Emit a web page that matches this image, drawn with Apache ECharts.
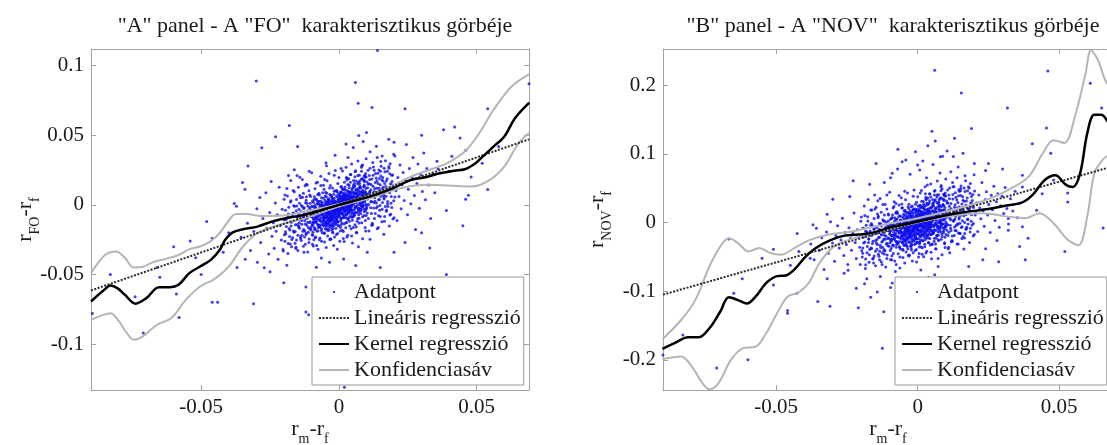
<!DOCTYPE html>
<html>
<head>
<meta charset="utf-8">
<script src="https://cdn.jsdelivr.net/npm/echarts@6/dist/echarts.min.js"></script>
<style>
html, body { margin: 0; padding: 0; background: #fff; }
#chart { width: 1107px; height: 445px; }
</style>
</head>
<body>
<div id="chart"></div>
<script>
// tick positions
const xTicks = [-0.05, 0, 0.05];
const yTicksA = [-0.1, -0.05, 0, 0.05, 0.1];
const yTicksB = [-0.2, -0.1, 0, 0.1, 0.2];

// scatter points, in units of 0.0001
const pointsA = [
  [-148,-62],[-146,-158],[-143,12],[-141,-104],[-139,-231],[-137,-47],[-135,-139],[-132,54],[-131,-88],[-128,-176],[-126,-21],[-124,-112],[-122,-283],[-121,-66],[-119,33],[-117,-147],[-115,-94],[-113,-8],[-111,-197],[-109,-58],[-107,-126],[-106,71],[-104,-31],[-102,-164],[-101,-83],
  [-99,-12],[-98,-136],[-96,-71],[-95,-218],[-93,-42],[-92,18],[-91,-104],[-89,-163],[-88,-57],[-87,-5],[-85,-121],[-84,-84],[-83,42],[-81,-29],[-80,-187],[-79,-98],[-77,-63],[-76,9],[-75,-142],[-73,-36],[-72,-81],[-71,-251],[-70,-14],[-68,-116],[-67,-52],[-66,27],[-64,-92],[-63,-171],[-62,-24],[-61,-67],[-59,88],[-58,-133],[-57,-43],[-56,-3],[-55,-109],[-54,-76],[-53,-206],[-52,-18],[-51,-58],[-50,34],
  [-49,-89],[-49,-31],[-48,-148],[-48,6],[-47,-62],[-47,-117],[-46,-22],[-46,58],[-45,-79],[-45,-4],[-44,-131],[-44,-46],[-43,-96],[-43,21],[-42,-13],[-42,-182],[-41,-68],[-41,-37],[-40,-109],[-40,3],[-39,-54],[-39,44],[-38,-83],[-38,-24],[-37,-141],[-37,-9],[-36,-61],[-36,17],[-35,-101],[-35,-39],[-34,-2],[-34,-124],[-33,-73],[-33,31],[-32,-47],[-32,-17],[-31,-92],[-31,-163],[-30,-28],[-30,9],[-29,-64],[-29,-114],[-28,-6],[-28,62],[-27,-51],[-27,-86],[-26,-21],[-26,24],[-25,-133],[-25,-41],[-24,-71],[-24,-1],[-23,-102],[-23,39],[-22,-33],[-22,-58],[-21,-11],[-21,-154],[-20,-79],[-20,14],[-19,-44],[-19,-24],[-18,-96],[-18,4],[-17,-62],[-17,48],[-16,-31],[-16,-118],[-15,-8],[-15,-53],[-14,-84],[-14,27],[-13,-19],[-13,-39],[-12,-141],[-12,9],[-11,-67],[-11,-28],[-10,-3],[-10,-107],[-9,-48],[-9,64],[-8,-14],[-8,-78],[-7,-34],[-7,19],[-6,-58],[-6,-2],[-5,-124],[-5,-22],[-4,-44],[-4,36],[-3,-9],[-3,-87],[-2,-29],[-2,7],[-1,-63],[-1,-17],
  [0,-21],[0,32],[1,16],[1,-76],[2,44],[2,-7],[3,-38],[3,23],[4,67],[4,7],[5,-51],[5,-16],[6,29],[6,-114],[7,-1],[7,51],[8,-29],[8,19],[9,91],[9,-64],[10,12],[10,38],[11,-13],[11,-92],[12,62],[12,17],[13,-41],[13,34],[14,1],[14,108],[15,-23],[15,47],[16,21],[16,-57],[17,73],[17,6],[18,-11],[18,31],[19,-73],[19,56],[20,14],[20,-32],[21,41],[21,87],[22,-4],[22,24],[23,-48],[23,61],[24,9],[24,36],[25,-128],[25,-18],[26,49],[26,27],[27,-37],[27,78],[28,16],[28,-1],[29,54],[29,-69],[30,32],[30,-16],[31,101],[31,12],[32,-27],[32,42],[33,23],[33,-98],[34,67],[34,1],[35,-43],[35,34],[36,18],[36,58],[37,-11],[37,124],[38,26],[38,-56],[39,47],[39,7],[40,74],[40,-24],[41,19],[41,39],[42,-78],[42,53],[43,-3],[43,93],[44,29],[44,-37],[45,61],[45,9],[46,-14],[46,44],[47,82],[47,-51],[48,21],[48,2],[49,56],[49,-111],
  [51,39],[52,93],[53,6],[54,61],[55,-37],[56,74],[57,26],[58,136],[59,49],[60,-9],[61,82],[62,18],[63,57],[64,111],[65,-56],[66,36],[67,88],[68,1],[69,66],[70,163],[71,31],[72,101],[73,-22],[74,48],[75,79],[76,16],[77,126],[78,42],[79,-43],[80,92],[81,59],[82,-6],[83,72],[84,188],[85,27],[86,107],[87,9],[88,53],[89,84],[90,-29],[91,64],[92,142],[93,34],[94,96],[95,-2],[96,69],[97,43],[98,118],[99,-77],[100,78],
  [102,44],[104,123],[106,77],[108,2],[110,152],[112,91],[114,56],[116,109],[118,24],[120,186],[122,68],[124,134],[126,-23],[128,96],[130,51],[132,161],[134,83],[136,13],[138,119],[140,72],[142,227],[144,37],[146,102],[148,-39],[150,144],[152,62],[154,89],[156,178],[158,18],[160,126],[162,76],[164,42],[166,153],[168,-11],[170,107],
  [-198,-214],[-194,-38],[-191,-156],[-187,64],[-184,-277],[-181,-92],[-178,-181],[-176,21],[-173,-124],[-171,-248],[-168,-61],[-166,103],[-163,-197],[-161,-9],[-158,-142],[-156,-304],[-154,38],[-151,-88],[-149,-218],[-147,126],[-145,-31],[-143,-167],[-141,-74],[-139,52],[-137,-256],[-135,-113],[-133,-12],[-131,-189],[-129,84],[-127,-58],[-125,-231],[-123,-137],[-121,16],[-119,-204],[-117,-96],[-115,143],[-113,-43],[-111,-162],[-109,-271],[-107,-19],[-105,-121],[-103,61],[-101,-181],
  [-99,-67],[-97,-214],[-96,28],[-94,-142],[-92,-36],[-91,-251],[-89,-98],[-87,116],[-86,-173],[-84,-21],[-82,-129],[-81,-292],[-79,-57],[-77,74],[-76,-188],[-74,-109],[-72,6],[-71,-156],[-69,-238],[-67,-41],[-66,139],[-64,-118],[-62,-64],[-61,-201],[-59,-14],[-57,-146],[-56,48],[-54,-97],[-52,-266],[-51,-33],[-49,-171],[-48,91],[-46,-76],[-45,-133],[-43,-7],[-41,-224],[-40,-52],[-38,34],[-37,-184],[-35,-114],[-34,122],[-32,-27],[-31,-148],[-29,-247],[-28,-66],[-26,56],[-25,-103],[-23,-194],[-22,-16],[-20,-138],[-19,77],[-17,-57],[-16,-231],[-14,-91],[-13,18],[-11,-168],[-10,-36],[-8,104],[-7,-121],[-5,-206],[-4,-48],[-2,43],[-1,-152],
  [1,-84],[2,68],[4,-23],[5,-187],[7,131],[8,-58],[10,14],[11,-131],[13,86],[14,-6],[16,-241],[17,52],[19,-92],[20,162],[22,-31],[23,108],[25,-164],[26,27],[28,-62],[29,194],[31,-12],[32,-218],[34,73],[35,-47],[37,141],[38,-118],[40,36],[41,-9],[43,218],[44,-171],[46,61],[47,-38],[49,119],[50,-87],[52,14],[53,176],[55,-58],[56,88],[58,-142],[59,32],[61,246],[62,-11],[64,103],[65,-201],[67,47],[68,152],[70,-34],[71,71],[73,-96],[74,213],[76,6],[77,124],[79,-61],[80,39],[82,271],[83,-128],[85,94],[86,-13],[88,183],[89,58],[91,-76],[92,131],[94,22],[95,-162],[97,226],[98,79],[100,-27],
  [102,164],[105,43],[107,-98],[110,211],[112,97],[115,-21],[117,146],[120,62],[122,-143],[125,273],[127,18],[130,118],[132,-61],[135,194],[137,82],[140,-12],[142,154],[145,251],[147,38],[150,-84],[152,207],[155,103],[157,-31],[160,171],[162,68],[165,-117],[167,238],[170,132],[172,-46],[175,187],[177,24],[180,98],[182,264],[185,-73],[187,152],[190,61],[192,-18],[195,214],[197,116],[200,-92],
  [-203,-320],[-199,41],[-196,-262],[-192,-105],[-189,118],[-185,-349],[-182,-17],[-179,-228],[-175,176],[-172,-301],[-169,-73],[-165,-188],[-162,94],[-159,-276],[-155,-43],[-152,211],[-149,-327],[-146,-152],[-142,67],[-139,-241],[-136,-5],[-133,183],[-129,-298],[-126,-89],[-123,137],[-119,-212],[-116,11],[-113,-339],[-109,102],[-106,-174],[-103,-58],[-99,231],[-96,-283],[-93,-121],[-89,59],[-86,-236],[-83,158],[-79,-31],[-76,-318],[-73,83],[-69,-161],[-66,206],[-63,-262],[-59,-71],[-56,141],[-53,-201],[-49,18],[-46,-306],[-43,173],[-39,-128],[-36,226],[-33,-248],[-29,69],[-26,-178],[-23,121],[-19,-292],[-16,-52],[-13,247],[-9,-213],[-6,92],[-3,-147],[0,196],
  [3,-261],[6,58],[9,-98],[13,244],[16,-192],[19,112],[23,-44],[26,271],[29,-231],[33,16],[36,187],[39,-152],[43,-3],[46,293],[49,-274],[53,128],[56,-76],[59,238],[63,-198],[66,47],[69,316],[73,-131],[76,173],[79,-27],[83,282],[86,-243],[89,91],[93,211],[96,-112],[99,331],[103,-58],[106,148],[109,-187],[113,263],[116,22],[119,-146],[123,304],[126,71],[129,-98],[133,226],[136,-23],[139,341],[143,-162],[146,119],[149,-4],[153,278],[156,-121],[159,197],[163,52],[166,-83],[169,318],[173,-36],[176,241],[179,108],[183,-151],[186,296],[189,11],[193,168],[196,-102],[199,363],[203,57],
  [-88,-14],[-84,-96],[-81,37],[-77,-142],[-74,-58],[-71,71],[-67,-3],[-64,-184],[-61,19],[-57,-86],[-54,112],[-51,-127],[-47,-26],[-44,83],[-41,-152],[-37,2],[-34,-67],[-31,139],[-27,-104],[-24,-8],[-21,-171],[-17,98],[-14,-44],[-11,17],[-7,-119],[-4,154],[-1,-71],[2,-3],[6,-163],[9,131],[12,-26],[16,68],[19,-138],[22,16],[26,-71],[29,178],[32,-104],[36,92],[39,-41],[42,218],[46,-88],[49,31],[52,-162],[56,153],[59,-17],[62,84],[66,-118],[69,211],[72,-51],[76,136],[79,-3],[82,241],[86,-86],[89,24],[92,168],[96,-42],[99,201],[102,-11],[106,248],[109,67],
  [-128,-26],[-124,-188],[-118,58],[-114,-127],[-108,-246],[-104,12],[-98,-86],[-94,-197],[-134,-218],[-144,-129],[-154,-253],[-164,-7],[-174,-151],[-184,-66],[-194,-193],[112,182],[118,-61],[124,213],[131,26],[138,173],[144,-78],[151,242],[158,114],[164,263],[171,62],[178,-11],[185,223],[192,144],
  [-98,-151],[-95,-12],[-93,-97],[-90,38],[-88,-176],[-85,-52],[-83,-118],[-80,6],[-78,-81],[-75,-163],[-73,27],[-70,-104],[-68,-37],[-65,-142],[-63,51],[-60,-68],[-58,-121],[-55,-9],[-53,-94],[-50,63],[-48,-136],[-45,-41],[-43,-88],[-40,19],[-38,-113],[-35,-57],[-33,74],[-30,-146],[-28,-23],[-25,-79],[-23,48],[-20,-118],[-18,-3],[-15,-64],[-13,102],[-10,-97],[-8,-31],[-5,57],[-3,-121],[0,12],[2,-56],[5,88],[7,-98],[10,-17],[12,117],[15,-73],[17,36],[20,-34],[22,128],[25,-91],[27,71],[30,-2],[32,146],[35,-58],[37,92],[40,-14],[42,163],[45,-31],[47,108],[50,4],[52,-84],[55,131],[57,22],[60,-53],[62,171],[65,58],[67,-18],[70,118],[72,-71],[75,154],[77,38],[80,-34],[82,186],[85,76],[87,-12],[90,132],[92,-48],[95,201],[97,91],[100,4],
  [-97,-64],[-92,-128],[-87,-29],[-82,-88],[-77,24],[-72,-146],[-67,-71],[-62,9],[-57,-106],[-52,-23],[-47,-171],[-42,-61],[-37,43],[-32,-92],[-27,-8],[-22,-154],[-17,29],[-12,-46],[-7,-107],[-2,78],[3,-29],[8,-142],[13,47],[18,-88],[23,11],[28,-126],[33,96],[38,-32],[43,54],[48,-63],[53,142],[58,-24],[63,81],[68,-97],[73,46],[78,123],[83,-8],[88,61],[93,173],[98,-26],
  [-64,-7],[-59,-43],[-54,-151],[-49,-92],[-44,-14],[-39,-171],[-34,-36],[-29,-88],[-24,21],[-19,-67],[-14,-132],[-9,-1],[-4,-83],[1,-41],[6,93],[11,-61],[16,8],[21,69],[26,-27],[31,38],[36,-91],[41,87],[46,-6],[51,56],[56,-71],[61,108],[66,26],[71,-39],[76,92],[81,12],
  [-372,-9],[-355,-233],[-341,112],[-332,-132],[-321,-328],[-309,-191],[-298,-28],[-296,-412],[-287,53],[-284,-271],[-276,-98],[-271,-452],[-265,88],[-262,-167],[-255,-353],[-251,-54],[-246,168],[-243,-226],[-238,-129],[-235,-312],[-231,13],[-228,-189],[-224,-71],[-221,-391],[-217,127],[-213,-148],[-209,-253],[-206,-32],[-202,-331],[-199,-107],[-196,71],[-193,-208],[-189,-434],[-186,-76],[-183,212],[-181,-169],[-177,-281],[-174,29],[-171,-122],[-168,-236],[-165,-59],[-162,253],[-159,-192],[-156,-313],[-153,-8],[-151,-141],
  [172,171],[176,7],[181,276],[184,88],[188,-68],[192,213],[196,134],[199,29],[203,352],[207,102],[211,-112],[214,197],[218,61],[222,286],[226,-28],[229,144],[233,233],[237,31],[241,181],[245,434],[249,-71],[252,112],[256,262],[261,8],[265,198],[269,341],[274,68],[278,-177],[283,154],[287,293],[292,-24],[297,219],[303,96],[308,372],[314,37],[319,261],[326,142],[333,-98],[341,224],[348,87],[356,313],
  [-142,198],[-127,-341],[-108,241],[-93,-296],[-78,162],[-64,-382],[-45,281],[-31,-244],[-17,213],[-6,-318],[8,262],[19,-263],[33,341],[46,-224],[58,203],[71,-301],[86,287],[97,-188],[113,-247],[128,248],[139,-171],[152,311],[163,-211],[-118,148],[-84,-231],[-52,182],[-22,-201],[12,-182],[27,196],[63,-158],[92,206],[121,-132],[147,189],
  [52,412],[88,455],[113,381],[-14,356],[72,498],[26,437],[136,422],[157,352],[181,471],[-47,302],[-34,-412],[17,-389],[61,-436],[-82,-448],[103,-341],
  [-300,890],[60,880],[70,730],[120,700],[240,690],[540,690],[690,870],[-180,570],[-230,490],[380,540],[440,480],[460,390],[410,350],[460,40],[470,70],[540,110],[390,-40],[-350,160],[-380,10],[-540,-260],[-460,-240],[-500,-500],[-650,-520],[-830,-500],[-740,-660],[-590,-640],[-460,-700],[-440,-700],[-310,-710],[-580,-810],[-710,-920],[-895,-780],[-120,-770],[-110,-790],[390,-500],[240,-270],[200,-340],[150,-450],[20,-1310],[140,1110],[-120,-590],[-340,-390],[-370,-450],[-420,-340],[-400,-200],[360,260],[400,240],[480,200],[520,300],[580,420],[-600,-300],[-660,-450],[-250,-480],[-200,-560],[300,-200],[330,-310],[-280,410],[-150,420],[100,520],[200,450],[300,500],[-330,280],[450,-150],[-480,-120],[-520,-380],[420,560]
];

const pointsB = [
  [-149,-262],[-147,-61],[-144,-388],[-142,-153],[-140,72],[-138,-214],[-136,-97],[-133,-331],[-131,-18],[-129,-176],[-127,-283],[-125,-124],[-123,41],[-120,-239],[-118,-146],[-116,-412],[-114,-71],[-112,-198],[-110,-3],[-108,-301],[-106,-112],[-104,126],[-103,-226],[-101,-48],
  [-99,-168],[-97,-32],[-96,-251],[-94,-109],[-93,58],[-91,-192],[-90,-77],[-88,-328],[-87,-14],[-85,-141],[-84,-233],[-82,19],[-81,-96],[-79,-187],[-78,-43],[-76,152],[-75,-274],[-73,-122],[-72,-8],[-70,-211],[-69,-68],[-67,88],[-66,-157],[-64,-362],[-63,-39],[-61,-118],[-60,31],[-58,-204],[-57,-87],[-56,214],[-54,-146],[-53,-23],[-52,-297],[-51,-62],[-50,63],
  [-49,-141],[-49,12],[-48,-222],[-48,-66],[-47,97],[-47,-183],[-46,-28],[-46,-109],[-45,178],[-45,-8],[-44,-264],[-44,-81],[-43,46],[-43,-152],[-42,-37],[-42,-318],[-41,118],[-41,-92],[-40,-12],[-40,-201],[-39,71],[-39,-58],[-38,-136],[-38,22],[-37,-244],[-37,-3],[-36,149],[-36,-117],[-35,-46],[-35,-386],[-34,88],[-34,-163],[-33,-24],[-33,-74],[-32,207],[-32,-211],[-31,36],[-31,-104],[-30,-9],[-30,-281],[-29,124],[-29,-52],[-28,-147],[-28,61],[-27,-31],[-27,-228],[-26,173],[-26,-88],[-25,4],[-25,-168],[-24,94],[-24,-42],[-23,-334],[-23,27],[-22,-121],[-22,142],[-21,-17],[-21,-197],[-20,66],[-20,-71],[-19,238],[-19,-139],[-18,-6],[-18,-254],[-17,109],[-17,-48],[-16,-112],[-16,34],[-15,-186],[-15,187],[-14,-26],[-14,-92],[-13,81],[-13,-271],[-12,-1],[-12,-154],[-11,142],[-11,-63],[-10,-219],[-10,47],[-9,-37],[-9,-126],[-8,266],[-8,12],[-7,-83],[-7,-308],[-6,98],[-6,-22],[-5,-167],[-5,158],[-4,-54],[-4,29],[-3,-241],[-3,74],[-2,-11],[-2,-103],[-1,196],[-1,-46],
  [0,-92],[0,58],[1,-19],[1,243],[2,-164],[2,102],[3,14],[3,-58],[4,176],[4,-233],[5,39],[5,-7],[6,-118],[6,127],[7,72],[7,-286],[8,-31],[8,214],[9,9],[9,-151],[10,93],[10,-54],[11,163],[11,27],[12,-201],[12,-3],[13,137],[13,66],[14,-88],[14,312],[15,-24],[15,104],[16,-176],[16,47],[17,223],[17,-41],[18,-112],[18,81],[19,3],[19,-262],[20,154],[20,-66],[21,34],[21,268],[22,-139],[22,96],[23,-12],[23,-214],[24,187],[24,61],[25,-78],[25,-351],[26,121],[26,18],[27,-47],[27,241],[28,-159],[28,73],[29,-2],[29,147],[30,-103],[30,337],[31,42],[31,-221],[32,92],[32,-34],[33,182],[33,-126],[34,11],[34,261],[35,-71],[35,129],[36,-184],[36,52],[37,201],[37,-19],[38,-294],[38,88],[39,-57],[39,163],[40,24],[40,-143],[41,286],[41,67],[42,-96],[42,134],[43,-8],[43,-231],[44,212],[44,41],[45,-61],[45,107],[46,-172],[46,373],[47,16],[47,-114],[48,158],[48,-27],[49,79],[49,-318],
  [51,-42],[52,171],[53,36],[54,-154],[55,244],[56,91],[57,-61],[58,137],[59,-227],[60,62],[61,318],[62,-8],[63,113],[64,-117],[65,206],[66,24],[67,-188],[68,152],[69,71],[70,-46],[71,283],[72,-3],[73,126],[74,-261],[75,94],[76,197],[77,-84],[78,42],[79,352],[80,-139],[81,166],[82,11],[83,-22],[84,231],[85,77],[86,-204],[87,143],[88,-71],[89,264],[90,38],[91,-128],[92,188],[93,-16],[94,107],[95,-294],[96,219],[97,59],[98,-57],[99,142],[100,-174],
  [102,96],[104,287],[106,-31],[108,174],[110,-142],[112,238],[114,61],[116,-82],[118,203],[120,121],[122,-196],[124,342],[126,18],[128,157],[130,-64],[132,261],[134,89],[136,-118],[138,214],[140,146],[142,-21],[144,392],[146,54],[148,-157],[150,183],[152,107],[154,-71],[156,271],[158,28],[160,-203],[162,168],[164,312],[166,3],[168,126],[170,-98],
  [-198,-412],[-194,-83],[-191,-298],[-187,104],[-184,-531],[-181,-186],[-178,-347],[-176,23],[-173,-241],[-171,-468],[-168,-122],[-166,183],[-163,-376],[-161,-36],[-158,-271],[-156,-588],[-154,61],[-151,-164],[-149,-417],[-147,224],[-145,-72],[-143,-318],[-141,-148],[-139,91],[-137,-491],[-135,-219],[-133,-27],[-131,-362],[-129,152],[-127,-113],[-125,-442],[-123,-263],[-121,24],[-119,-391],[-117,-186],[-115,263],[-113,-84],[-111,-311],[-109,-522],[-107,-41],[-105,-231],[-103,112],[-101,-346],
  [-99,-129],[-97,-408],[-96,49],[-94,-271],[-92,-71],[-91,-482],[-89,-188],[-87,214],[-86,-331],[-84,-43],[-82,-246],[-81,-561],[-79,-109],[-77,137],[-76,-361],[-74,-207],[-72,8],[-71,-298],[-69,-456],[-67,-79],[-66,258],[-64,-226],[-62,-124],[-61,-384],[-59,-28],[-57,-279],[-56,86],[-54,-186],[-52,-508],[-51,-63],[-49,-327],[-48,171],[-46,-146],[-45,-254],[-43,-14],[-41,-428],[-40,-101],[-38,62],[-37,-352],[-35,-218],[-34,231],[-32,-52],[-31,-283],[-29,-472],[-28,-127],[-26,104],[-25,-197],[-23,-371],[-22,-31],[-20,-264],[-19,146],[-17,-109],[-16,-441],[-14,-174],[-13,33],[-11,-321],[-10,-69],[-8,198],[-7,-231],[-5,-394],[-4,-92],[-2,81],[-1,-291],
  [1,-161],[2,129],[4,-44],[5,-357],[7,249],[8,-111],[10,27],[11,-251],[13,163],[14,-12],[16,-461],[17,98],[19,-176],[20,309],[22,-59],[23,206],[25,-314],[26,51],[28,-119],[29,371],[31,-23],[32,-417],[34,139],[35,-89],[37,269],[38,-226],[40,68],[41,-17],[43,416],[44,-327],[46,116],[47,-73],[49,227],[50,-166],[52,27],[53,336],[55,-111],[56,168],[58,-271],[59,61],[61,469],[62,-21],[64,197],[65,-384],[67,89],[68,291],[70,-65],[71,136],[73,-183],[74,407],[76,11],[77,237],[79,-116],[80,74],[82,517],[83,-244],[85,179],[86,-25],[88,349],[89,111],[91,-145],[92,250],[94,42],[95,-309],[97,431],[98,151],[100,-52],
  [102,313],[105,82],[107,-187],[110,403],[112,185],[115,-40],[117,279],[120,118],[122,-273],[125,521],[127,34],[130,225],[132,-116],[135,370],[137,156],[140,-23],[142,294],[145,479],[147,73],[150,-160],[152,395],[155,196],[157,-59],[160,326],[162,130],[165,-223],[167,454],[170,252],[172,-88],[175,357],[177,46],[180,187],[182,504],[185,-139],[187,290],[190,116],[192,-34],[195,408],[197,221],[200,-175],
  [-203,-612],[-199,81],[-196,-503],[-192,-212],[-189,241],[-185,-668],[-182,-38],[-179,-441],[-175,337],[-172,-579],[-169,-148],[-165,-372],[-162,183],[-159,-531],[-155,-93],[-152,402],[-149,-628],[-146,-297],[-142,124],[-139,-462],[-136,-14],[-133,352],[-129,-571],[-126,-178],[-123,262],[-119,-409],[-116,19],[-113,-648],[-109,198],[-106,-339],[-103,-117],[-99,443],[-96,-542],[-93,-236],[-89,113],[-86,-452],[-83,304],[-79,-63],[-76,-611],[-73,159],[-69,-312],[-66,394],[-63,-503],[-59,-139],[-56,271],[-53,-387],[-49,33],[-46,-588],[-43,332],[-39,-246],[-36,433],[-33,-477],[-29,131],[-26,-342],[-23,232],[-19,-561],[-16,-101],[-13,474],[-9,-408],[-6,177],[-3,-283],[0,376],
  [3,-501],[6,112],[9,-188],[13,468],[16,-368],[19,214],[23,-84],[26,521],[29,-443],[33,31],[36,359],[39,-291],[43,-6],[46,563],[49,-526],[53,246],[56,-146],[59,457],[63,-381],[66,91],[69,607],[73,-252],[76,332],[79,-52],[83,541],[86,-467],[89,174],[93,405],[96,-215],[99,636],[103,-111],[106,284],[109,-359],[113,505],[116,42],[119,-281],[123,584],[126,136],[129,-188],[133,434],[136,-44],[139,655],[143,-311],[146,228],[149,-8],[153,534],[156,-232],[159,378],[163,99],[166,-159],[169,611],[173,-69],[176,463],[179,207],[183,-290],[186,568],[189,21],[193,323],[196,-196],[199,697],[203,109],
  [-88,-27],[-84,-184],[-81,71],[-77,-273],[-74,-111],[-71,136],[-67,-6],[-64,-353],[-61,36],[-57,-165],[-54,215],[-51,-244],[-47,-50],[-44,159],[-41,-292],[-37,4],[-34,-129],[-31,267],[-27,-200],[-24,-15],[-21,-328],[-17,188],[-14,-84],[-11,33],[-7,-228],[-4,296],[-1,-136],[2,-6],[6,-313],[9,252],[12,-50],[16,131],[19,-265],[22,31],[26,-136],[29,342],[32,-200],[36,177],[39,-79],[42,419],[46,-169],[49,60],[52,-311],[56,294],[59,-33],[62,161],[66,-227],[69,405],[72,-98],[76,261],[79,-6],[82,463],[86,-165],[89,46],[92,323],[96,-81],[99,386],[102,-21],[106,476],[109,129],
  [-128,-50],[-124,-361],[-118,111],[-114,-244],[-108,-472],[-104,23],[-98,-165],[-94,-378],[-134,-419],[-144,-248],[-154,-486],[-164,-13],[-174,-290],[-184,-127],[-194,-371],[112,349],[118,-117],[124,409],[131,50],[138,332],[144,-150],[151,465],[158,219],[164,505],[171,119],[178,-21],[185,428],[192,276],
  [-98,-294],[-95,-24],[-93,-188],[-90,74],[-88,-343],[-85,-102],[-83,-230],[-80,12],[-78,-158],[-75,-318],[-73,53],[-70,-203],[-68,-72],[-65,-277],[-63,99],[-60,-133],[-58,-236],[-55,-18],[-53,-183],[-50,123],[-48,-265],[-45,-80],[-43,-172],[-40,37],[-38,-220],[-35,-111],[-33,144],[-30,-285],[-28,-45],[-25,-154],[-23,94],[-20,-230],[-18,-6],[-15,-125],[-13,199],[-10,-189],[-8,-60],[-5,111],[-3,-236],[0,23],[2,-109],[5,172],[7,-191],[10,-33],[12,228],[15,-142],[17,70],[20,-66],[22,250],[25,-177],[27,138],[30,-4],[32,285],[35,-113],[37,179],[40,-27],[42,318],[45,-60],[47,211],[50,8],[52,-164],[55,255],[57,43],[60,-103],[62,334],[65,113],[67,-35],[70,230],[72,-138],[75,300],[77,74],[80,-66],[82,363],[85,148],[87,-23],[90,257],[92,-94],[95,392],[97,177],[100,8],
  [-97,-125],[-92,-250],[-87,-57],[-82,-172],[-77,47],[-72,-285],[-67,-138],[-62,18],[-57,-207],[-52,-45],[-47,-333],[-42,-119],[-37,84],[-32,-179],[-27,-16],[-22,-300],[-17,57],[-12,-90],[-7,-209],[-2,152],[3,-57],[8,-277],[13,92],[18,-172],[23,21],[28,-246],[33,187],[38,-62],[43,105],[48,-123],[53,277],[58,-47],[63,158],[68,-189],[73,90],[78,240],[83,-16],[88,119],[93,337],[98,-51],
  [-64,-14],[-59,-84],[-54,-294],[-49,-179],[-44,-27],[-39,-333],[-34,-70],[-29,-172],[-24,41],[-19,-131],[-14,-257],[-9,-2],[-4,-162],[1,-80],[6,181],[11,-119],[16,16],[21,135],[26,-53],[31,74],[36,-177],[41,170],[46,-12],[51,109],[56,-138],[61,211],[66,51],[71,-76],[76,179],[81,23],
  [-378,-312],[-366,-541],[-358,-82],[-347,-402],[-339,-221],[-331,-683],[-322,-136],[-316,-448],[-308,12],[-301,-297],[-294,-562],[-289,-188],[-283,-47],[-277,-372],[-271,-254],[-266,63],[-261,-481],[-257,-143],[-252,-318],[-247,-612],[-243,-74],[-238,-231],[-234,-402],[-229,-156],[-225,138],[-221,-289],[-217,-524],[-213,-103],[-209,-217],[-205,-361],[-201,21],[-198,-178],[-194,-447],[-191,-81],[-187,-284],[-184,-613],[-180,-132],[-177,84],[-173,-241],[-170,-392],[-166,-38],[-163,-187],[-160,-306],[-157,-521],[-154,-98],[-151,198],
  [172,314],[176,47],[179,522],[183,198],[186,-84],[190,381],[194,243],[197,-12],[201,462],[205,136],[208,288],[212,-131],[216,401],[219,213],[223,56],[227,583],[231,174],[235,-52],[239,336],[243,448],[247,111],[251,262],[256,-146],[260,398],[264,187],[269,531],[273,31],[278,302],[283,421],[288,-68],[293,247],[298,383],[304,132],[309,512],[315,204],[321,-22],[328,347],[336,168],[344,456],[352,71],[360,283],
  [-141,318],[-126,-612],[-109,401],[-92,-541],[-77,278],[-63,-662],[-46,456],[-31,-487],[-16,384],[-4,-573],[9,432],[21,-498],[34,548],[47,-432],[59,401],[72,-522],[86,488],[97,-362],[113,-441],[128,521],[139,-312],[152,498],[163,-386],[-118,-458],[-84,236],[-52,-402],[-22,-398],[12,-356],[27,421],[63,-311],[92,412],[121,-262],[147,457],[-135,-541],[-58,362],[5,-452],[68,372],[108,-381],
  [-42,912],[-8,1034],[18,896],[36,1121],[-71,781],[54,846],[88,968],[-27,704],[117,742],[-96,652],[143,811],[62,1188],[-118,583],[7,767],[104,1043],[167,684],[-55,888],[31,655],[79,721],[126,962],
  [-188,-892],[-143,-1012],[-96,-946],[-64,-1103],[-21,-874],[-132,-787],[4,-968],[-166,-1089],[38,-802],[-217,-956],[-79,-713],[-48,-828],[11,-692],[72,-641],[-246,-694],
  [60,2220],[154,1890],[317,1670],[460,2210],[610,2030],[190,1370],[50,1330],[130,1230],[455,1380],[405,1150],[470,1010],[-70,1070],[-147,860],[-228,610],[-300,340],[-370,-30],[-426,-160],[-510,-390],[-667,-240],[-510,-910],[-650,-1030],[-427,-1030],[-460,-1280],[-460,-1320],[-353,-1150],[-310,-1220],[-210,-1240],[-120,-1300],[-125,-1830],[-600,-2000],[-710,-2120],[-830,-1640],[-900,-1930],[520,-420],[530,430],[530,300],[390,-230],[380,-540],[286,-570],[230,-540],[180,-640],[320,-110],[370,-60],[655,-80],[370,690],[370,520],[650,1670],[250,860],[200,860],
  [-380,-520],[-420,-420],[-320,-820],[-260,-740],[-180,-820],[-90,-880],[-40,-900],[60,-760],[120,-820],[240,-380],[280,-260],[320,60],[360,-350],[420,180],[440,420],[480,620],[-240,380],[-170,560],[-90,720],[0,840],[80,960],[160,1010],[240,760],[300,780],[-320,120],[-450,-620],[-550,-520],[-620,-820]
];

// fitted curves
const linearA = [[-0.09, -0.0615], [0.069, 0.0471]];
const kernelA = [[-0.090,-0.0694],[-0.0855,-0.0615],[-0.0829,-0.0580],[-0.0803,-0.0600],[-0.0777,-0.0646],[-0.0738,-0.0710],[-0.0699,-0.0670],[-0.0653,-0.0591],[-0.0614,-0.0591],[-0.0582,-0.0574],[-0.0543,-0.0490],[-0.0504,-0.0443],[-0.0465,-0.0395],[-0.0432,-0.0323],[-0.0413,-0.0251],[-0.0387,-0.0199],[-0.0348,-0.0175],[-0.0296,-0.0156],[-0.0244,-0.0120],[-0.0192,-0.0096],[-0.0127,-0.0072],[-0.0062,-0.0036],[0,0],[0.0068,0.0036],[0.0132,0.0072],[0.0197,0.0120],[0.0262,0.0180],[0.0314,0.0199],[0.0366,0.0227],[0.0418,0.0246],[0.0457,0.0256],[0.0496,0.0299],[0.0522,0.0347],[0.0561,0.0419],[0.0600,0.0490],[0.0639,0.0622],[0.0691,0.0734]];
const bandUpA = [[-0.090,-0.0490],[-0.0868,-0.0400],[-0.0842,-0.0350],[-0.0810,-0.0335],[-0.0777,-0.0380],[-0.0745,-0.0450],[-0.0712,-0.0445],[-0.0673,-0.0410],[-0.0634,-0.0390],[-0.0582,-0.0360],[-0.0543,-0.0318],[-0.0504,-0.0299],[-0.0465,-0.0260],[-0.0432,-0.0200],[-0.0406,-0.0130],[-0.0374,-0.0065],[-0.0335,-0.0065],[-0.0283,-0.0080],[-0.0218,-0.0078],[-0.0127,-0.0050],[0,0.0007],[0.0132,0.0084],[0.0262,0.0203],[0.0340,0.0260],[0.0392,0.0299],[0.0457,0.0383],[0.0509,0.0514],[0.0561,0.0682],[0.0626,0.0849],[0.0691,0.0940]];
const bandLoA = [[-0.090,-0.0825],[-0.0855,-0.0790],[-0.0829,-0.0778],[-0.0803,-0.0825],[-0.0770,-0.0920],[-0.0745,-0.0969],[-0.0712,-0.0945],[-0.0660,-0.0861],[-0.0608,-0.0813],[-0.0556,-0.0682],[-0.0504,-0.0586],[-0.0452,-0.0533],[-0.0400,-0.0443],[-0.0348,-0.0299],[-0.0296,-0.0203],[-0.0218,-0.0144],[-0.0127,-0.0096],[0,-0.0012],[0.0132,0.0060],[0.0223,0.0120],[0.0327,0.0144],[0.0431,0.0136],[0.0483,0.0132],[0.0548,0.0180],[0.0600,0.0275],[0.0652,0.0443],[0.0691,0.0519]];

const linearB = [[-0.09, -0.105], [0.069, 0.082]];
const kernelB = [[-0.0902,-0.184],[-0.0861,-0.176],[-0.0811,-0.167],[-0.0773,-0.167],[-0.0736,-0.154],[-0.0698,-0.130],[-0.0667,-0.109],[-0.0635,-0.113],[-0.0604,-0.118],[-0.0573,-0.108],[-0.0535,-0.088],[-0.0497,-0.078],[-0.0466,-0.077],[-0.0435,-0.068],[-0.0397,-0.050],[-0.0360,-0.037],[-0.0310,-0.026],[-0.0259,-0.019],[-0.0209,-0.0175],[-0.0159,-0.0146],[-0.0096,-0.0068],[0,0.0015],[0.0079,0.0087],[0.0154,0.0146],[0.0242,0.0194],[0.0305,0.0243],[0.0367,0.0290],[0.0405,0.040],[0.0449,0.062],[0.0486,0.069],[0.0524,0.055],[0.0549,0.052],[0.0574,0.072],[0.0599,0.130],[0.0624,0.157],[0.0649,0.157],[0.0670,0.148],[0.0690,0.135]];
const bandUpB = [[-0.0902,-0.170],[-0.0836,-0.142],[-0.0786,-0.113],[-0.0736,-0.064],[-0.0698,-0.035],[-0.0667,-0.023],[-0.0635,-0.030],[-0.0598,-0.042],[-0.0560,-0.037],[-0.0523,-0.044],[-0.0485,-0.047],[-0.0435,-0.037],[-0.0385,-0.026],[-0.0322,-0.018],[-0.0234,-0.013],[-0.0109,-0.002],[0,0.0063],[0.0117,0.018],[0.0242,0.033],[0.0330,0.050],[0.0392,0.067],[0.0442,0.101],[0.0480,0.120],[0.0518,0.116],[0.0555,0.154],[0.0593,0.217],[0.0612,0.251],[0.0637,0.237],[0.0662,0.208],[0.0690,0.190]];
const bandLoB = [[-0.0902,-0.199],[-0.0836,-0.195],[-0.0798,-0.210],[-0.0761,-0.234],[-0.0736,-0.243],[-0.0704,-0.234],[-0.0660,-0.200],[-0.0617,-0.183],[-0.0573,-0.181],[-0.0535,-0.161],[-0.0497,-0.132],[-0.0460,-0.108],[-0.0422,-0.102],[-0.0385,-0.088],[-0.0347,-0.059],[-0.0297,-0.035],[-0.0234,-0.024],[-0.0109,-0.011],[0,0],[0.0117,0.0097],[0.0229,0.0136],[0.0317,0.0087],[0.0380,0.0063],[0.0430,0.0136],[0.0480,-0.001],[0.0530,-0.025],[0.0568,-0.033],[0.0599,0.0087],[0.0624,0.072],[0.0649,0.089],[0.0665,0.096],[0.0690,0.100]];

const serif = '"Liberation Serif", "Times New Roman", serif';
const frameColor = '#a3a3a3';
const textColor = '#1a1a1a';
const legendNames = ['Adatpont', 'Lineáris regresszió', 'Kernel regresszió', 'Konfidenciasáv'];
const dotIcon = 'path://M0,0M30,0M30,10M0,10M14,4h2v2h-2z';
const hiddenSymbol = { color: 'rgba(0,0,0,0)', borderColor: 'rgba(0,0,0,0)', borderWidth: 0, opacity: 0 };

const nameRich = {
    a: { fontFamily: serif, fontSize: 22, color: textColor, lineHeight: 24 },
    s: { fontFamily: serif, fontSize: 14, color: textColor, lineHeight: 14, padding: [20, 0, 0, 0] }
};

function makeAxis(grid, pos, min, max, ticks, name, gap) {
    const main = pos === 'bottom' || pos === 'left';
    return {
        type: 'value',
        gridIndex: grid,
        position: pos,
        min: min,
        max: max,
        axisLine: { show: true, onZero: false, lineStyle: { color: frameColor, width: 1 } },
        axisTick: { show: true, inside: true, length: 5, customValues: ticks, lineStyle: { color: frameColor } },
        axisLabel: {
            show: main,
            customValues: ticks,
            margin: 7,
            fontFamily: serif,
            fontSize: 21,
            color: textColor,
            formatter: v => String(v)
        },
        splitLine: { show: false },
        name: main ? name : '',
        nameLocation: 'middle',
        nameGap: gap,
        nameMoveOverlap: false,
        nameTextStyle: { rich: nameRich }
    };
}

function scale(points) {
    return points.map(p => [p[0] / 10000, p[1] / 10000]);
}

function panelSeries(idx, points, linear, kernel, up, lo) {
    const base = { xAxisIndex: idx * 2, yAxisIndex: idx * 2 };
    const line = (name, data, color, width, type, z) => Object.assign({
        type: 'line', name: name, data: data, symbol: 'none', showSymbol: false,
        smooth: 0.35, z: z,
        lineStyle: { color: color, width: width, type: type },
        itemStyle: { color: color }
    }, base);
    return [
        Object.assign({
            type: 'scatter', name: 'Adatpont', data: scale(points),
            symbol: 'circle', symbolSize: 3, silent: true,
            itemStyle: { color: '#0c0cf0' }, z: 1
        }, base),
        line('Konfidenciasáv', up, '#b5b5b5', 2, 'solid', 2),
        line('Konfidenciasáv', lo, '#b5b5b5', 2, 'solid', 2),
        Object.assign(line('Lineáris regresszió', linear, '#2a2a2a', 2, [2, 1.5], 3), { smooth: false }),
        line('Kernel regresszió', kernel, '#000000', 2.5, 'solid', 4)
    ];
}

function makeLegend(left) {
    return {
        left: left,
        top: 277,
        orient: 'vertical',
        selectedMode: false,
        data: legendNames.map(n => n === 'Adatpont'
            ? { name: n, icon: dotIcon }
            : { name: n, itemStyle: hiddenSymbol }),
        itemWidth: 30,
        itemHeight: 10,
        itemGap: 4,
        padding: [4, 3, 4, 6],
        backgroundColor: '#ffffff',
        borderColor: '#999999',
        borderWidth: 1,
        borderRadius: 0,
        textStyle: { fontFamily: serif, fontSize: 22, color: textColor, lineHeight: 22 }
    };
}

const titleStyle = { fontFamily: serif, fontSize: 22, fontWeight: 'normal', color: textColor };

const chart = echarts.init(document.getElementById('chart'));
chart.setOption({
    animation: false,
    backgroundColor: '#ffffff',
    textStyle: { fontFamily: serif },
    title: [
        { text: '"A" panel - A "FO"  karakterisztikus görbéje', left: 310, top: 10, textAlign: 'center', textStyle: titleStyle },
        { text: '"B" panel - A "NOV"  karakterisztikus görbéje', left: 888, top: 10, textAlign: 'center', textStyle: titleStyle }
    ],
    grid: [
        { left: 91, top: 49, width: 438, height: 341, outerBoundsMode: 'none', containLabel: false },
        { left: 663, top: 49, width: 450, height: 341, outerBoundsMode: 'none', containLabel: false }
    ],
    xAxis: [
        makeAxis(0, 'bottom', -0.09, 0.069, xTicks, '{a|r}{s|m}{a|-r}{s|f}', 27),
        makeAxis(0, 'top', -0.09, 0.069, xTicks, '', 0),
        makeAxis(1, 'bottom', -0.09, 0.069, xTicks, '{a|r}{s|m}{a|-r}{s|f}', 27),
        makeAxis(1, 'top', -0.09, 0.069, xTicks, '', 0)
    ],
    yAxis: [
        makeAxis(0, 'left', -0.133, 0.112, yTicksA, '{a|r}{s|FO}{a|-r}{s|f}', 54),
        makeAxis(0, 'right', -0.133, 0.112, yTicksA, '', 0),
        makeAxis(1, 'left', -0.244, 0.253, yTicksB, '{a|r}{s|NOV}{a|-r}{s|f}', 54),
        makeAxis(1, 'right', -0.244, 0.253, yTicksB, '', 0)
    ],
    legend: [makeLegend(312), makeLegend(895)],
    series: [].concat(
        panelSeries(0, pointsA, linearA, kernelA, bandUpA, bandLoA),
        panelSeries(1, pointsB, linearB, kernelB, bandUpB, bandLoB)
    )
});
</script>
</body>
</html>
